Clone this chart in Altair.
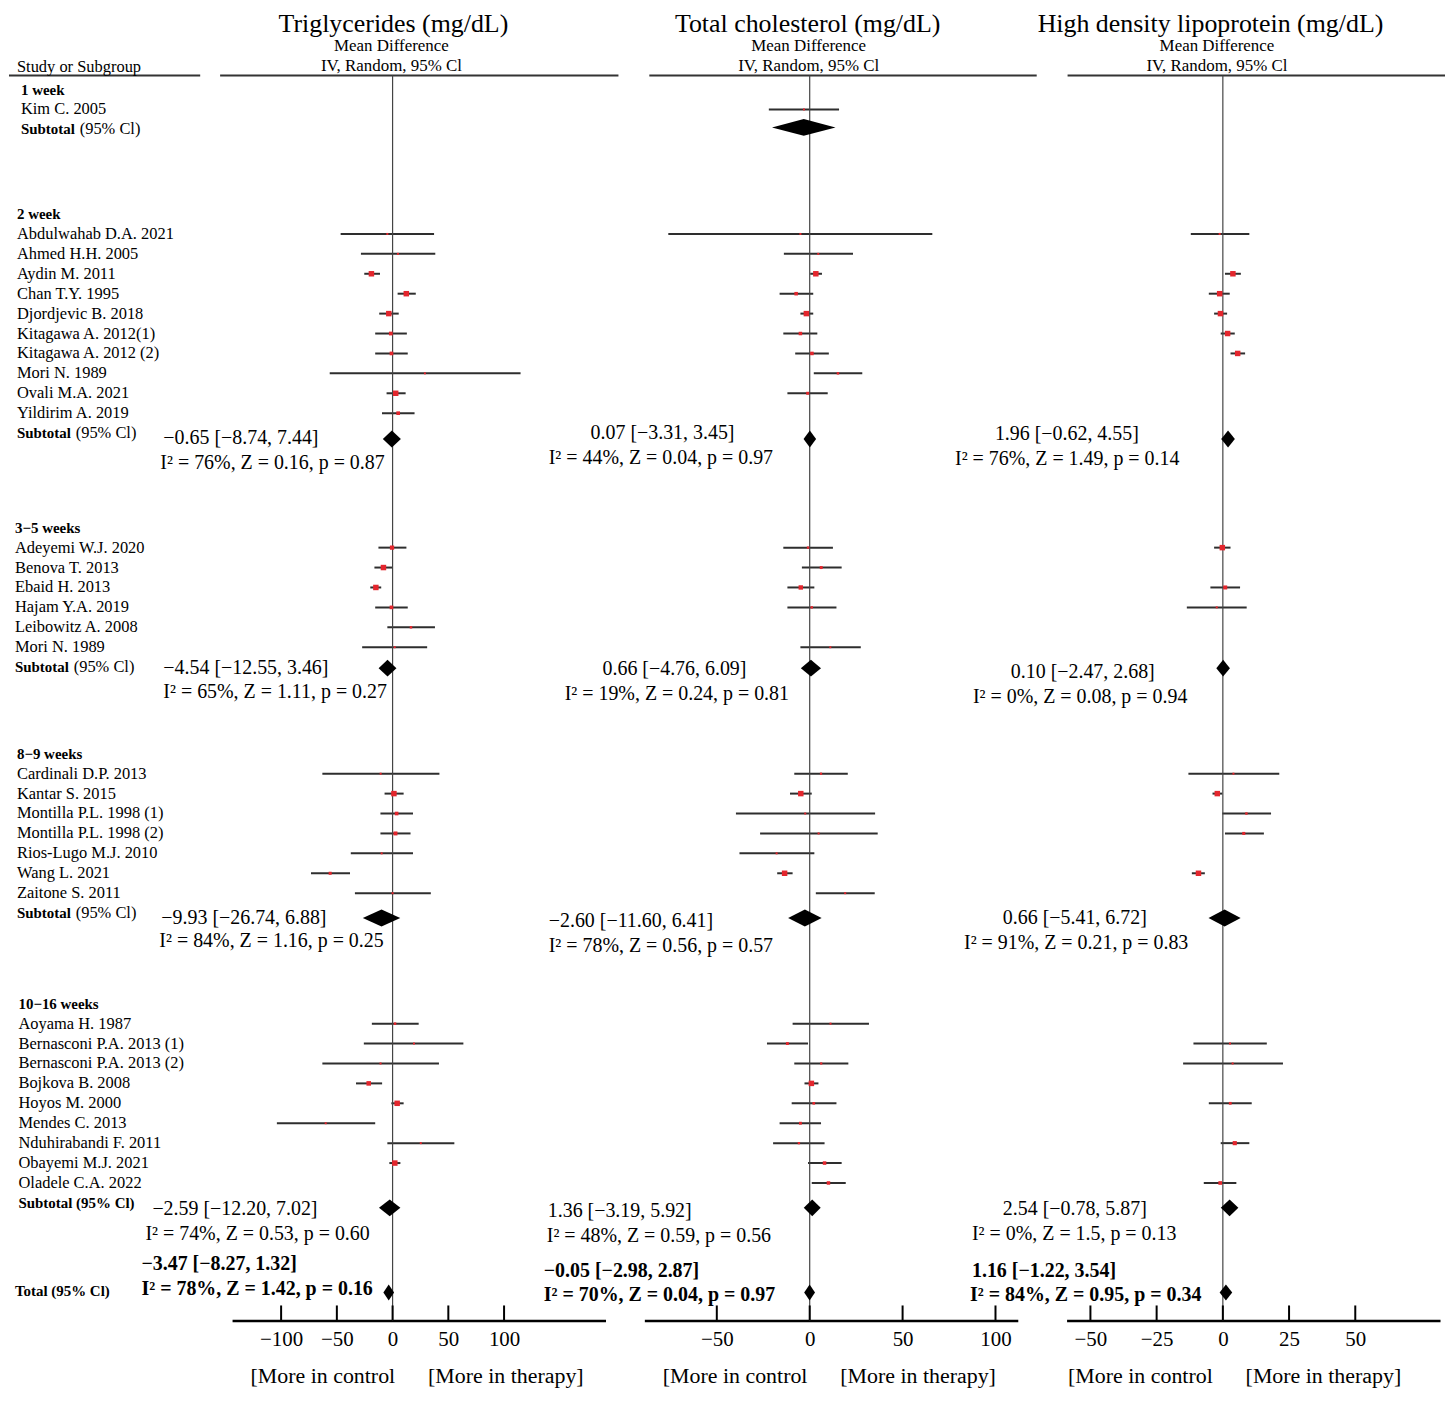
import altair as alt
import pandas as pd

# ---------------- data ----------------
groups = ["1 week", "2 week", "3\u22125 weeks", "8\u22129 weeks", "10\u221216 weeks"]
studies = [
    ["Kim C. 2005"],
    ["Abdulwahab D.A. 2021", "Ahmed H.H. 2005", "Aydin M. 2011", "Chan T.Y. 1995",
     "Djordjevic B. 2018", "Kitagawa A. 2012(1)", "Kitagawa A. 2012 (2)", "Mori N. 1989",
     "Ovali M.A. 2021", "Yildirim A. 2019"],
    ["Adeyemi W.J. 2020", "Benova T. 2013", "Ebaid H. 2013", "Hajam Y.A. 2019",
     "Leibowitz A. 2008", "Mori N. 1989"],
    ["Cardinali D.P. 2013", "Kantar S. 2015", "Montilla P.L. 1998 (1)", "Montilla P.L. 1998 (2)",
     "Rios-Lugo M.J. 2010", "Wang L. 2021", "Zaitone S. 2011"],
    ["Aoyama H. 1987", "Bernasconi P.A. 2013 (1)", "Bernasconi P.A. 2013 (2)", "Bojkova B. 2008",
     "Hoyos M. 2000", "Mendes C. 2013", "Nduhirabandi F. 2011", "Obayemi M.J. 2021",
     "Oladele C.A. 2022"],
]

# (mean difference, lower 95% CI, upper 95% CI) per study; None = not reported
tg = [
    [None],
    [(-4.7, -46.6, 37.2), (4.8, -28.4, 38.3), (-19.0, -25.4, -11.3), (12.3, 4.5, 20.8),
     (-3.4, -12.0, 5.5), (-1.6, -15.6, 12.8), (-1.0, -15.6, 13.6), (29.0, -56.4, 114.8),
     (2.8, -5.4, 11.7), (5.0, -9.5, 19.7)],
    [(-0.5, -12.7, 12.4), (-8.2, -16.3, 0.1), (-15.0, -20.0, -10.2), (-1.0, -15.6, 13.6),
     (16.5, -4.7, 38.0), (1.9, -27.3, 31.0)],
    [(-10.7, -63.0, 42.0), (1.2, -7.2, 9.9), (3.6, -10.9, 18.3), (2.6, -10.9, 16.1),
     (-9.8, -37.5, 18.3), (-56.0, -73.2, -38.2), (0.0, -33.8, 34.3)],
    [(2.2, -18.6, 23.4), (19.2, -25.8, 63.5), (-10.8, -63.0, 41.6), (-21.4, -32.8, -9.4),
     (4.1, -1.1, 9.9), (-60.0, -103.8, -15.6), (25.3, -4.7, 55.4), (2.0, -2.9, 7.0), None],
]
tg_sub = [None, (-0.65, -8.74, 7.44), (-4.54, -12.55, 3.46), (-9.93, -26.74, 6.88),
          (-2.59, -12.20, 7.02)]
tg_total = (-3.47, -8.27, 1.32)
tg_stats = [None, "I² = 76%, Z = 0.16, p = 0.87", "I² = 65%, Z = 1.11, p = 0.27",
            "I² = 84%, Z = 1.16, p = 0.25", "I² = 74%, Z = 0.53, p = 0.60"]
tg_total_stats = "I² = 78%, Z = 1.42, p = 0.16"
tg_ticks = [-100, -50, 0, 50, 100]

tc = [
    [(-3.1, -22.0, 15.8)],
    [(-5.0, -76.1, 66.0), (4.6, -13.9, 23.3), (3.3, 0.3, 6.6), (-7.3, -16.2, 1.9),
     (-1.8, -5.0, 1.9), (-5.0, -14.2, 4.1), (1.2, -7.8, 10.3), (15.2, 2.2, 28.3),
     (-1.1, -12.0, 9.7), None],
    [(-0.9, -14.2, 12.5), (6.2, -4.2, 17.2), (-4.8, -12.0, 2.5), (1.1, -12.0, 14.4),
     None, (11.1, -5.0, 27.5)],
    [(6.1, -8.3, 20.5), (-4.8, -10.6, 1.1), (-2.4, -39.7, 35.2), (4.8, -26.7, 36.6),
     (-17.8, -37.8, 2.5), (-13.5, -17.5, -9.2), (19.1, 3.3, 35.0)],
    [(11.2, -9.2, 31.9), (-12.0, -23.0, -0.9), (6.2, -8.3, 20.8), (0.9, -2.8, 4.7),
     (2.2, -9.7, 14.4), (-5.0, -16.2, 6.1), (-5.8, -19.7, 8.0), (8.0, -0.9, 17.2),
     (10.1, 1.1, 19.4)],
]
tc_sub = [(-3.2, -20.3, 13.9), (0.07, -3.31, 3.45), (0.66, -4.76, 6.09), (-2.60, -11.60, 6.41),
          (1.36, -3.19, 5.92)]
tc_total = (-0.05, -2.98, 2.87)
tc_stats = [None, "I² = 44%, Z = 0.04, p = 0.97", "I² = 19%, Z = 0.24, p = 0.81",
            "I² = 78%, Z = 0.56, p = 0.57", "I² = 48%, Z = 0.59, p = 0.56"]
tc_total_stats = "I² = 70%, Z = 0.04, p = 0.97"
tc_ticks = [-50, 0, 50, 100]

hdl = [
    [None],
    [(-1.2, -12.1, 10.0), None, (3.8, 0.8, 6.8), (-1.2, -5.3, 2.6), (-0.9, -3.3, 1.6),
     (1.8, -0.8, 4.5), (5.6, 2.9, 8.4), None, None, None],
    [(-0.2, -3.3, 2.9), None, (0.9, -4.7, 6.5), (-2.3, -13.6, 9.0), None, None],
    [(4.0, -13.0, 21.3), (-2.1, -3.9, -0.2), (8.9, -0.2, 18.2), (7.9, 0.8, 15.5),
     None, (-9.2, -11.7, -6.8), None],
    [None, (2.7, -11.1, 16.6), (3.7, -15.0, 22.7), None, (2.8, -5.3, 10.9), None,
     (4.5, -0.8, 10.0), None, (-1.0, -7.2, 5.1)],
]
hdl_sub = [None, (1.96, -0.62, 4.55), (0.10, -2.47, 2.68), (0.66, -5.41, 6.72),
           (2.54, -0.78, 5.87)]
hdl_total = (1.16, -1.22, 3.54)
hdl_stats = [None, "I² = 76%, Z = 1.49, p = 0.14", "I² = 0%, Z = 0.08, p = 0.94",
             "I² = 91%, Z = 0.21, p = 0.83", "I² = 0%, Z = 1.5, p = 0.13"]
hdl_total_stats = "I² = 84%, Z = 0.95, p = 0.34"
hdl_ticks = [-50, -25, 0, 25, 50]

titles = {"tg": "Triglycerides (mg/dL)", "tc": "Total cholesterol (mg/dL)",
          "hdl": "High density lipoprotein (mg/dL)"}
subhead = ["Mean Difference", "IV, Random, 95% Cl"]
axis_caption = "[More in control" + "\u00a0" * 6 + "[More in therapy]"

# ---------------- layout (pixels) ----------------
W, H = 375, 1250
LABEL_W = 224
SERIF = "Liberation Serif"
RED = "#e3262d"
FIRST_ROW, ROW_STEP = 14, 20
GROUP_GAPS = [85, 95, 87, 91, 88]
LABEL_X = [12, 8, 6, 8, 9.5]
DIAMOND_DY = [-2, 6, 1, 5, 5]
TOTAL_DY = 2
PANEL_LAYOUT = {
    "tg": dict(left=232, domain=(-144, 191), head=(220, 620), title_px=394, sub_px=392, capx=18),
    "tc": dict(left=646, domain=(-89, 112), head=(651, 1040), title_px=810, sub_px=811, capx=18),
    "hdl": dict(left=1070, domain=(-59, 82), head=(1071, 1450), title_px=1214.5, sub_px=1221, capx=1),
}
SPACERS = [39, 49]
# (left px line 1, dy line 1, left px line 2, dy line 2) for groups 2..5 and total
ANNOT = {
    "tg": [(163, 5, 160, 30), (163, 1, 163, 25), (161, 5, 159, 28), (152, 6, 145, 31), (141, -27, 141, -2)],
    "tc": [(592, 0, 550, 25), (604, 2, 566, 27), (550, 8, 550, 33), (549, 8, 548, 33), (545, -20, 545, 5)],
    "hdl": [(998, 1, 958, 26), (1014, 5, 976, 30), (1006, 5, 967, 30), (1006, 6, 975, 31), (975, -20, 973, 5)],
}

# row positions
header_y, study_y, sub_y = [], [], []
y = FIRST_ROW
for g, names in enumerate(studies):
    header_y.append(y)
    study_y.append([y + ROW_STEP * (i + 1) for i in range(len(names))])
    sub_y.append(y + ROW_STEP * (len(names) + 1))
    y = sub_y[-1] + GROUP_GAPS[g]
total_y = y


def fmt(v):
    return f"{v:.2f}".replace("-", "\u2212")


def ci_text(t):
    return f"{fmt(t[0])} [{fmt(t[1])}, {fmt(t[2])}]"


YS = alt.Scale(domain=[0, H], reverse=True, nice=False, zero=False)


def forest_panel(key, data, sub, total, stats, total_stats, ticks):
    lay = PANEL_LAYOUT[key]
    d0, d1 = lay["domain"]

    def px(p):
        return d0 + (p - lay["left"]) / W * (d1 - d0)

    xs = alt.Scale(domain=[d0, d1], nice=False, zero=False)
    axis = alt.Axis(values=ticks, ticks=False, grid=False, domain=True, domainColor="black",
                    domainWidth=2.5, labels=True, labelFont=SERIF, labelFontSize=21,
                    labelColor="black", labelPadding=8, labelFlush=False, orient="bottom",
                    title=axis_caption, titleFont=SERIF, titleFontSize=22,
                    titleFontWeight="normal", titleColor="black", titleAlign="left",
                    titleAnchor="start", titleX=lay["capx"], titleY=62,
                    titleBaseline="alphabetic")

    def X(f):
        return alt.X(f, scale=xs, axis=axis)

    def Y(f):
        return alt.Y(f, scale=YS, axis=None)

    rows = []
    for g in range(len(studies)):
        for i, v in enumerate(data[g]):
            if v is None:
                continue
            e, lo, hi = v
            wpx = (hi - lo) / (d1 - d0) * W
            side = min(5.5, max(2.0, 120.0 / wpx))
            rows.append(dict(y=study_y[g][i], est=e, lo=lo, hi=hi, sz=side * side))
    df = pd.DataFrame(rows)

    dias = []
    for g in range(len(studies)):
        if sub[g] is not None:
            dias.append((sub_y[g] + DIAMOND_DY[g], sub[g], 8.5))
    dias.append((total_y + TOTAL_DY, total, 8.0))
    drows = []
    for k, (yc, t, h) in enumerate(dias):
        e, lo, hi = t
        drows += [dict(id=k, x=lo, y1=yc, y2=yc), dict(id=k, x=e, y1=yc - h, y2=yc + h),
                  dict(id=k, x=hi, y1=yc, y2=yc)]
    ddf = pd.DataFrame(drows)

    norm, bold = [], []
    for j, g in enumerate(range(1, 5)):
        a1, dy1, a2, dy2 = ANNOT[key][j]
        norm.append(dict(x=px(a1), y=sub_y[g] + dy1, t=ci_text(sub[g])))
        norm.append(dict(x=px(a2), y=sub_y[g] + dy2, t=stats[g]))
    a1, dy1, a2, dy2 = ANNOT[key][4]
    bold.append(dict(x=px(a1), y=total_y + dy1, t=ci_text(total)))
    bold.append(dict(x=px(a2), y=total_y + dy2, t=total_stats))

    head = pd.DataFrame([dict(a=px(lay["head"][0]), b=px(lay["head"][1]), y=0)])
    zero = pd.DataFrame([dict(x=0, y=0, y2=H)])
    tks = pd.DataFrame(dict(x=ticks, y=[H - 15] * len(ticks), y2=[H] * len(ticks)))
    ttl = pd.DataFrame([dict(x=px(lay["title_px"]), y=-52, t=titles[key])])
    sh = pd.DataFrame([dict(x=px(lay["sub_px"]), y=-30, t=subhead[0]),
                       dict(x=px(lay["sub_px"]), y=-10, t=subhead[1])])

    layers = [
        alt.Chart(df).mark_rule(color="#2e2e2e", strokeWidth=2).encode(
            x=X("lo:Q"), x2="hi:Q", y=Y("y:Q")),
        alt.Chart(head).mark_rule(color="#333", strokeWidth=2).encode(x=X("a:Q"), x2="b:Q", y=Y("y:Q")),
        alt.Chart(zero).mark_rule(color="#444", strokeWidth=1.2).encode(x=X("x:Q"), y=Y("y:Q"), y2="y2:Q"),
        alt.Chart(df).mark_square(color=RED, opacity=1).encode(
            x=X("est:Q"), y=Y("y:Q"), size=alt.Size("sz:Q", scale=None, legend=None)),
        alt.Chart(ddf).mark_area(color="black", orient="vertical", interpolate="linear").encode(
            x=X("x:Q"), y=Y("y1:Q"), y2="y2:Q", detail="id:N"),
        alt.Chart(tks).mark_rule(color="black", strokeWidth=2).encode(x=X("x:Q"), y=Y("y:Q"), y2="y2:Q"),
        alt.Chart(pd.DataFrame(norm)).mark_text(font=SERIF, fontSize=20, align="left", color="black").encode(
            x=X("x:Q"), y=Y("y:Q"), text="t:N"),
        alt.Chart(pd.DataFrame(bold)).mark_text(font=SERIF, fontSize=20, fontWeight="bold", align="left",
                                                color="black").encode(x=X("x:Q"), y=Y("y:Q"), text="t:N"),
        alt.Chart(ttl).mark_text(font=SERIF, fontSize=26, align="center", color="black").encode(
            x=X("x:Q"), y=Y("y:Q"), text="t:N"),
        alt.Chart(sh).mark_text(font=SERIF, fontSize=17, align="center", color="black").encode(
            x=X("x:Q"), y=Y("y:Q"), text="t:N"),
    ]
    return alt.layer(*layers).properties(width=W, height=H)


def label_panel():
    xs = alt.Scale(domain=[0, LABEL_W], nice=False, zero=False)
    norm = [dict(x=8, y=-9, t="Study or Subgroup")]
    bold = []
    for g, names in enumerate(studies):
        lx = LABEL_X[g]
        bold.append(dict(x=lx, y=header_y[g], t=groups[g]))
        for i, n in enumerate(names):
            norm.append(dict(x=lx, y=study_y[g][i], t=n))
        if g == len(studies) - 1:
            bold.append(dict(x=lx, y=sub_y[g], t="Subtotal (95% Cl)"))
        else:
            bold.append(dict(x=lx, y=sub_y[g], t="Subtotal"))
            norm.append(dict(x=lx + 59, y=sub_y[g], t="(95% Cl)"))
    bold.append(dict(x=6, y=total_y, t="Total (95% Cl)"))
    head = pd.DataFrame([dict(a=0, b=192, y=0)])

    def X(f):
        return alt.X(f, scale=xs, axis=None)

    def Y(f):
        return alt.Y(f, scale=YS, axis=None)

    return alt.layer(
        alt.Chart(head).mark_rule(color="#333", strokeWidth=2).encode(x=X("a:Q"), x2="b:Q", y=Y("y:Q")),
        alt.Chart(pd.DataFrame(norm)).mark_text(font=SERIF, fontSize=16.5, align="left", color="black").encode(
            x=X("x:Q"), y=Y("y:Q"), text="t:N"),
        alt.Chart(pd.DataFrame(bold)).mark_text(font=SERIF, fontSize=15, fontWeight="bold", align="left",
                                                color="black").encode(x=X("x:Q"), y=Y("y:Q"), text="t:N"),
    ).properties(width=LABEL_W, height=H)


def spacer(w):
    d = pd.DataFrame({"v": [0]})
    return alt.Chart(d).mark_point(opacity=0).encode(
        x=alt.X("v:Q", axis=None), y=alt.Y("v:Q", axis=None)).properties(width=w, height=H)


chart = alt.hconcat(
    label_panel(),
    forest_panel("tg", tg, tg_sub, tg_total, tg_stats, tg_total_stats, tg_ticks),
    spacer(SPACERS[0]),
    forest_panel("tc", tc, tc_sub, tc_total, tc_stats, tc_total_stats, tc_ticks),
    spacer(SPACERS[1]),
    forest_panel("hdl", hdl, hdl_sub, hdl_total, hdl_stats, hdl_total_stats, hdl_ticks),
    spacing=0, bounds="flush", padding=0,
).configure_view(strokeWidth=0)

chart.save("out.html", embed_options={"renderer": "svg", "actions": False})
